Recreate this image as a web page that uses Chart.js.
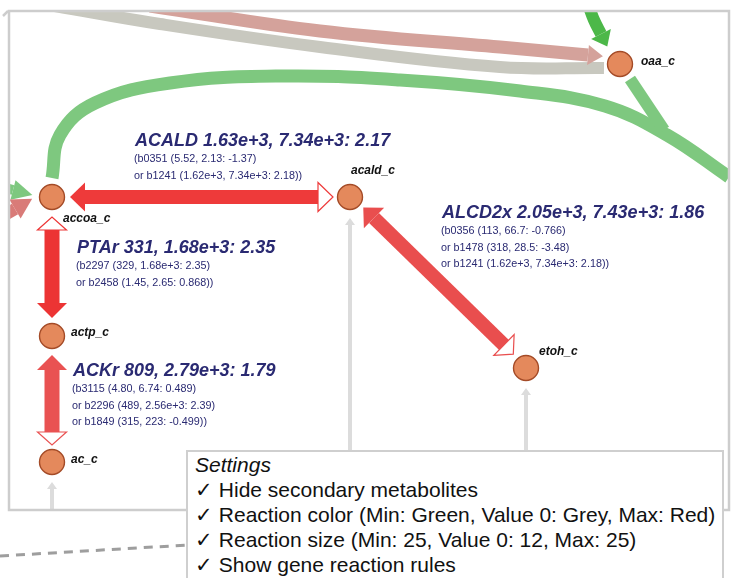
<!DOCTYPE html>
<html><head><meta charset="utf-8">
<script src="https://cdn.jsdelivr.net/npm/chart.js@4/dist/chart.umd.min.js"></script>
<style>
html,body{margin:0;padding:0;background:#fff;overflow:hidden}
#wrap{position:relative;width:731px;height:578px}
#c{position:absolute;left:0;top:0}
#settings{position:absolute;left:186px;top:450px;width:538px;height:160px;box-sizing:border-box;border:2px solid #cfcfcf;background:#fff;
 font:21px/25px "Liberation Sans",Arial,Helvetica,sans-serif;color:#111;padding-left:7px;white-space:nowrap}
#settings .t{font-style:italic}
</style></head>
<body><div id="wrap"><canvas id="c" width="731" height="578"></canvas><div id="settings"></div></div>
<script>
// ---------- data ----------
const metabolites = ['accoa_c','acald_c','oaa_c','actp_c','ac_c','etoh_c'];
const metaboliteX = [52, 350, 620, 52, 52, 526];
const metaboliteY = [197, 197, 64, 336, 462, 368];

const reactionIds   = ['ACALD','PTAr','ACKr','ALCD2x'];
const reactionStats = ['1.63e+3, 7.34e+3: 2.17','331, 1.68e+3: 2.35','809, 2.79e+3: 1.79','2.05e+3, 7.43e+3: 1.86'];
const geneRulesACALD  = ['(b0351 (5.52, 2.13: -1.37)','or b1241 (1.62e+3, 7.34e+3: 2.18))'];
const geneRulesPTAr   = ['(b2297 (329, 1.68e+3: 2.35)','or b2458 (1.45, 2.65: 0.868))'];
const geneRulesACKr   = ['(b3115 (4.80, 6.74: 0.489)','or b2296 (489, 2.56e+3: 2.39)','or b1849 (315, 223: -0.499))'];
const geneRulesALCD2x = ['(b0356 (113, 66.7: -0.766)','or b1478 (318, 28.5: -3.48)','or b1241 (1.62e+3, 7.34e+3: 2.18))'];

// reaction path segments (map coordinates)
const pathACALD  = [[85,197],[318,197]];
const pathPTAr   = [[52,230],[52,303]];
const pathACKr   = [[52,370],[52,432]];
const pathALCD2x = [[374,218],[504,345]];
const pathGreyTop  = [[55,6],[160,24],[320,47],[500,67],[604,68]];
const pathPinkTop  = [[150,6],[320,31],[500,47],[588,55]];
const pathGreenIn  = [[588,4],[594,20],[601,34]];
const pathGreenArc = [[52,178],[60,135],[95,103],[170,83],[280,76],[400,80],[520,91],[605,106],[667,135],[729,177]];
const pathGreenBranch = [[630,79],[664,130]];
const pathLeftGreen = [[-10,184],[13,190]];
const pathLeftPink  = [[-10,224],[15,209]];
const pathGreyAcald = [[350,510],[350,225]];
const pathGreyEtoh  = [[526,510],[526,395]];
const pathGreyAc    = [[52,510],[52,489]];

const settingsTitle = 'Settings';
const settingsItems = ['Hide secondary metabolites','Reaction color (Min: Green, Value 0: Grey, Max: Red)',
  'Reaction size (Min: 25, Value 0: 12, Max: 25)','Show gene reaction rules'];

// ---------- layout / style ----------
const FONT = '"Liberation Sans", Arial, Helvetica, sans-serif';
const NAVY = '#2a2a72';
const nodeLabelPos = [[63,222],[351,174],[641,65],[71,336],[71,463],[539,355]];
const reactionLabelPos = [[135,146],[77,253],[73,376],[442,218]];
const geneRuleSets = [geneRulesACALD, geneRulesPTAr, geneRulesACKr, geneRulesALCD2x];

const toPts = p => p.map(([x,y]) => ({x, y}));
const datasets = [];
function path(pts, color, width, extra) {
  datasets.push(Object.assign({
    data: toPts(pts), showLine: true, borderColor: color, backgroundColor: color,
    borderWidth: width, pointRadius: 0, tension: 0, clip: 0, fill: false,
    borderCapStyle: 'butt', borderJoinStyle: 'round'
  }, extra || {}));
}
path(pathGreyTop, '#c8c8bf', 12, {tension: 0.4});
path(pathPinkTop, '#d4a29b', 13, {tension: 0.4, heads: [{at:'end', len:15, half:10}]});
path(pathGreenIn, '#4cb849', 12, {tension: 0.4, heads: [{at:'end', len:14, half:11}]});
path(pathGreenArc, '#7ec87f', 13, {tension: 0.4});
path(pathGreenBranch, '#7ec87f', 12);
path(pathLeftGreen, '#7ec87f', 10, {heads: [{at:'end', len:20, half:10}]});
path(pathLeftPink, '#d97b78', 12, {heads: [{at:'end', len:20, half:11}]});
path(pathGreyAcald, '#dcdcdc', 4, {heads: [{at:'end', len:7, half:5}]});
path(pathGreyEtoh, '#dcdcdc', 4, {heads: [{at:'end', len:7, half:5}]});
path(pathGreyAc, '#dcdcdc', 4, {heads: [{at:'end', len:7, half:5}]});
path(pathACALD, '#ee3a3a', 14, {heads: [{at:'start', len:15, half:14.5}, {at:'end', len:15, half:14.5, hollow:true}]});
path(pathPTAr, '#ec3434', 15, {heads: [{at:'start', len:13, half:14.5, hollow:true}, {at:'end', len:15, half:15}]});
path(pathACKr, '#e95252', 15, {heads: [{at:'start', len:15, half:15}, {at:'end', len:13, half:14.5, hollow:true}]});
path(pathALCD2x, '#e94e4e', 14, {heads: [{at:'start', len:15, half:14.5}, {at:'end', len:13, half:14.5, hollow:true}]});
datasets.push({
  data: metaboliteX.map((x,i) => ({x, y: metaboliteY[i]})),
  pointRadius: 12.5, backgroundColor: '#e4895c', borderColor: '#a44b27', borderWidth: 1.4, clip: 0
});
datasets.forEach((d,i) => d.order = datasets.length - i);

function drawHead(ctx, bx, by, dx, dy, h, color) {
  const nx = -dy, ny = dx;
  ctx.beginPath();
  ctx.moveTo(bx + nx*h.half, by + ny*h.half);
  ctx.lineTo(bx + dx*h.len, by + dy*h.len);
  ctx.lineTo(bx - nx*h.half, by - ny*h.half);
  ctx.closePath();
  if (h.hollow) {
    ctx.fillStyle = '#fff'; ctx.fill();
    ctx.strokeStyle = color; ctx.lineWidth = 1.2; ctx.stroke();
  } else { ctx.fillStyle = color; ctx.fill(); }
}

const mapPlugin = {
  id: 'escherMap',
  afterDatasetDraw(chart, args) {
    const ds = chart.data.datasets[args.index];
    if (!ds.heads) return;
    const pts = args.meta.data, ctx = chart.ctx, a = chart.chartArea;
    ctx.save();
    ctx.beginPath(); ctx.rect(a.left, a.top, a.right - a.left, a.bottom - a.top); ctx.clip();
    ds.heads.forEach(h => {
      let p, q;
      if (h.at === 'end') { p = pts[pts.length-1]; q = pts[pts.length-2]; }
      else { p = pts[0]; q = pts[1]; }
      let dx = p.x - q.x, dy = p.y - q.y; const L = Math.hypot(dx, dy); dx /= L; dy /= L;
      drawHead(ctx, p.x, p.y, dx, dy, h, ds.borderColor);
    });
    ctx.restore();
  },
  afterDatasetsDraw(chart) {
    const ctx = chart.ctx, a = chart.chartArea, xs = chart.scales.x, ys = chart.scales.y;
    // frame
    ctx.save();
    ctx.strokeStyle = '#cdcdcd'; ctx.lineWidth = 2.5;
    ctx.strokeRect(a.left, a.top, a.right - a.left, a.bottom - a.top);
    ctx.beginPath(); ctx.moveTo(a.left - 6, a.top + 5); ctx.lineTo(a.left - 1, a.top); ctx.stroke();
    // metabolite labels
    ctx.fillStyle = '#111'; ctx.textBaseline = 'alphabetic'; ctx.textAlign = 'left';
    ctx.font = 'italic bold 12px ' + FONT;
    metabolites.forEach((m,i) => {
      ctx.fillText(m, xs.getPixelForValue(nodeLabelPos[i][0]), ys.getPixelForValue(nodeLabelPos[i][1]));
    });
    // reaction labels
    reactionIds.forEach((r,i) => {
      const x = xs.getPixelForValue(reactionLabelPos[i][0]);
      const y = ys.getPixelForValue(reactionLabelPos[i][1]);
      ctx.fillStyle = NAVY;
      ctx.font = 'italic bold 18px ' + FONT;
      ctx.fillText(r + ' ' + reactionStats[i], x, y);
      ctx.font = '10.8px ' + FONT;
      geneRuleSets[i].forEach((g,j) => ctx.fillText(g, x - 1, y + 16.4*(j+1)));
    });
    ctx.restore();
  },
  afterDraw(chart) {
    const ctx = chart.ctx;
    ctx.save();
    ctx.strokeStyle = '#9e9e9e'; ctx.lineWidth = 3; ctx.setLineDash([9,7]);
    ctx.beginPath(); ctx.moveTo(0, 556); ctx.lineTo(188, 545); ctx.stroke();
    ctx.restore();
  }
};

new Chart(document.getElementById('c'), {
  type: 'scatter',
  data: {datasets},
  options: {
    responsive: false, animation: false, events: [],
    layout: {autoPadding: false, padding: {left: 9, top: 11, right: 2, bottom: 68}},
    scales: {
      x: {type: 'linear', min: 9, max: 729, display: false},
      y: {type: 'linear', min: 11, max: 510, reverse: true, display: false}
    },
    elements: {line: {capBezierPoints: false}},
    plugins: {legend: {display: false}, tooltip: {enabled: false}}
  },
  plugins: [mapPlugin]
});

// settings panel
const box = document.getElementById('settings');
const t = document.createElement('div'); t.className = 't'; t.textContent = settingsTitle; box.appendChild(t);
settingsItems.forEach(s => { const d = document.createElement('div'); d.textContent = '\u2713 ' + s; box.appendChild(d); });
</script>
</body></html>
